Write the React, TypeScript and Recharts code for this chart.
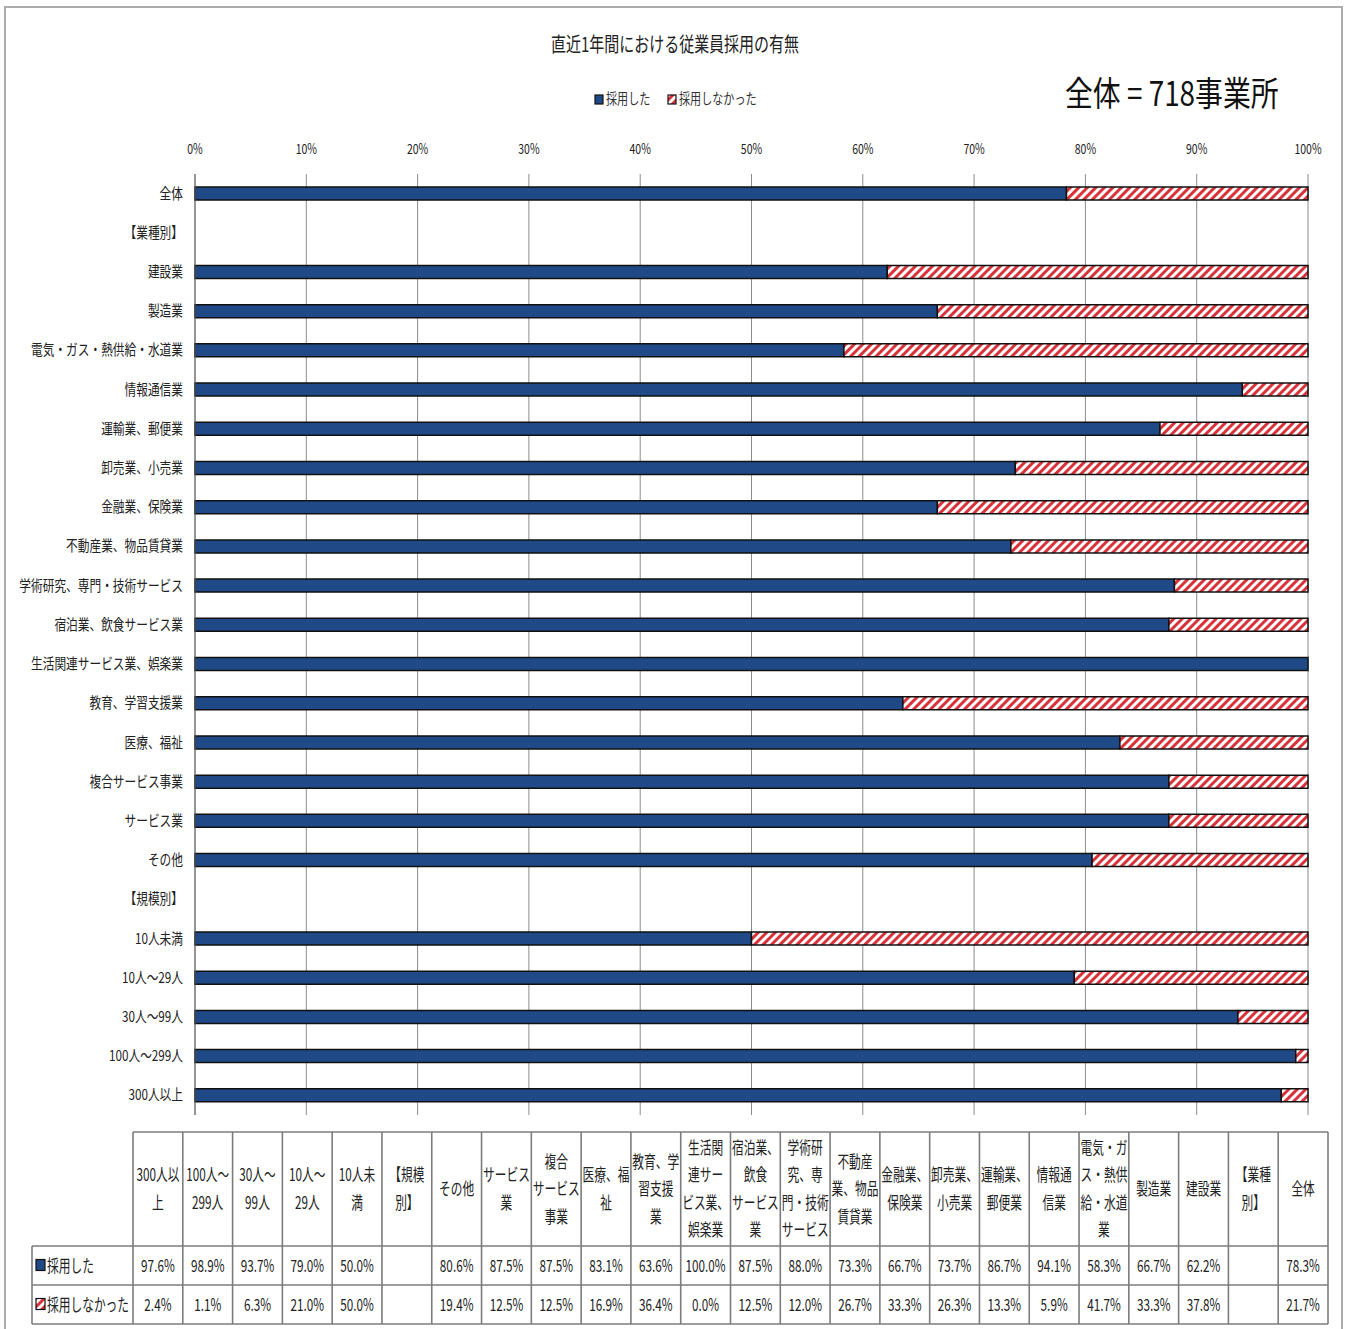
import { BarChart, Bar, XAxis, YAxis, CartesianGrid, Legend } from 'recharts'

// 業種別・規模別の採用状況（%）
const categories = [
  '全体',
  '【業種別】',
  '建設業',
  '製造業',
  '電気・ガス・熱供給・水道業',
  '情報通信業',
  '運輸業、郵便業',
  '卸売業、小売業',
  '金融業、保険業',
  '不動産業、物品賃貸業',
  '学術研究、専門・技術サービス',
  '宿泊業、飲食サービス業',
  '生活関連サービス業、娯楽業',
  '教育、学習支援業',
  '医療、福祉',
  '複合サービス事業',
  'サービス業',
  'その他',
  '【規模別】',
  '10人未満',
  '10人～29人',
  '30人～99人',
  '100人～299人',
  '300人以上',
]

const hired = [
  78.3, null, 62.2, 66.7, 58.3, 94.1, 86.7, 73.7, 66.7, 73.3, 88.0, 87.5,
  100.0, 63.6, 83.1, 87.5, 87.5, 80.6, null, 50.0, 79.0, 93.7, 98.9, 97.6,
]

const notHired = [
  21.7, null, 37.8, 33.3, 41.7, 5.9, 13.3, 26.3, 33.3, 26.7, 12.0, 12.5,
  0.0, 36.4, 16.9, 12.5, 12.5, 19.4, null, 50.0, 21.0, 6.3, 1.1, 2.4,
]

// データテーブル見出し（折り返し位置込み）
const headLines = [
  '全体',
  '【業種\n別】',
  '建設業',
  '製造業',
  '電気・ガ\nス・熱供\n給・水道\n業',
  '情報通\n信業',
  '運輸業、\n郵便業',
  '卸売業、\n小売業',
  '金融業、\n保険業',
  '不動産\n業、物品\n賃貸業',
  '学術研\n究、専\n門・技術\nサービス',
  '宿泊業、\n飲食\nサービス\n業',
  '生活関\n連サー\nビス業、\n娯楽業',
  '教育、学\n習支援\n業',
  '医療、福\n祉',
  '複合\nサービス\n事業',
  'サービス\n業',
  'その他',
  '【規模\n別】',
  '10人未\n満',
  '10人～\n29人',
  '30人～\n99人',
  '100人～\n299人',
  '300人以\n上',
]

const xTicks = [0, 10, 20, 30, 40, 50, 60, 70, 80, 90, 100]

const seriesNames = ['採用した', '採用しなかった']

const data = categories.map((name, i) => ({
  name,
  hired: hired[i],
  notHired: notHired[i],
}))

const FONT = '"Noto Sans CJK JP", "Noto Sans", sans-serif'
const NAVY = '#1f4a87'
const RED = '#d8333a'
const INK = '#222'

function XTick({ x, y, payload }: any) {
  return (
    <g transform={`translate(${x},${y}) scale(0.75,1)`}>
      <text x={0} y={0} dy={-12} textAnchor="middle" fontSize={14} fill={INK} fontFamily={FONT}>
        {payload.value}%
      </text>
    </g>
  )
}

function YTick({ x, y, payload }: any) {
  return (
    <g transform={`translate(${x - 4},${y}) scale(0.78,1)`}>
      <text x={0} y={0} dy={5} textAnchor="end" fontSize={15} fill={INK} fontFamily={FONT}>
        {payload.value}
      </text>
    </g>
  )
}

function LegendContent({ payload }: any) {
  const xs = [595, 668]
  return (
    <svg width={1348} height={24}>
      {(payload || []).map((entry: any, i: number) => (
        <g key={entry.value}>
          <rect x={xs[i]} y={8} width={8} height={9} fill={entry.payload?.fill ?? entry.color} stroke="#111" strokeWidth={1.2} />
          <g transform={`translate(${xs[i] + 11},17) scale(0.74,1)`}>
            <text x={0} y={0} fontSize={15} fill="#333" fontFamily={FONT}>
              {entry.value}
            </text>
          </g>
        </g>
      ))}
    </svg>
  )
}

// 下部のデータテーブル
function DataTable() {
  const left = 32
  const x0 = 133
  const x1 = 1328
  const colW = (x1 - x0) / categories.length
  const yHead = 1132
  const yRow1 = 1246
  const yRow2 = 1285
  const yEnd = 1324
  const order = categories.map((_, i) => categories.length - 1 - i)
  const lineColor = '#7c7c7c'
  const sx = 0.69
  const fmt = (v: number | null) => (v == null ? '' : `${v.toFixed(1)}%`)

  return (
    <g fontFamily={FONT} fill={INK}>
      <line x1={x0} y1={yHead} x2={x1} y2={yHead} stroke={lineColor} strokeWidth={1.6} />
      {[yRow1, yRow2, yEnd].map((yy) => (
        <line key={yy} x1={left} y1={yy} x2={x1} y2={yy} stroke={lineColor} strokeWidth={1.6} />
      ))}
      <line x1={left} y1={yRow1} x2={left} y2={yEnd} stroke={lineColor} strokeWidth={1.6} />
      {order.map((_, c) => (
        <line key={c} x1={x0 + c * colW} y1={yHead} x2={x0 + c * colW} y2={yEnd} stroke={lineColor} strokeWidth={1.6} />
      ))}
      <line x1={x1} y1={yHead} x2={x1} y2={yEnd} stroke={lineColor} strokeWidth={1.6} />

      {order.map((idx, c) => {
        const cx = x0 + c * colW + colW / 2
        const lines = headLines[idx].split('\n')
        const mid = (yHead + yRow1) / 2
        return (
          <g key={categories[idx]}>
            {lines.map((ln, j) => (
              <g key={j} transform={`translate(${cx},${mid + (j - (lines.length - 1) / 2) * 27.5}) scale(${sx},1)`}>
                <text x={0} y={0} dy={6} textAnchor="middle" fontSize={17}>
                  {ln}
                </text>
              </g>
            ))}
            <g transform={`translate(${cx},${(yRow1 + yRow2) / 2}) scale(${sx},1)`}>
              <text x={0} y={0} dy={6} textAnchor="middle" fontSize={17}>
                {fmt(hired[idx])}
              </text>
            </g>
            <g transform={`translate(${cx},${(yRow2 + yEnd) / 2}) scale(${sx},1)`}>
              <text x={0} y={0} dy={6} textAnchor="middle" fontSize={17}>
                {fmt(notHired[idx])}
              </text>
            </g>
          </g>
        )
      })}

      {[NAVY, 'url(#stripes)'].map((fill, r) => {
        const cy = r === 0 ? (yRow1 + yRow2) / 2 : (yRow2 + yEnd) / 2
        return (
          <g key={r}>
            <rect x={36} y={cy - 6} width={9} height={11} fill={fill} stroke="#111" strokeWidth={1.2} />
            <g transform={`translate(47,${cy}) scale(${sx},1)`}>
              <text x={0} y={0} dy={6} fontSize={17}>
                {seriesNames[r]}
              </text>
            </g>
          </g>
        )
      })}
    </g>
  )
}

export default function App() {
  return (
    <div
      style={{
        position: 'absolute',
        left: 0,
        top: 0,
        width: 1348,
        height: 1329,
        overflow: 'hidden',
        background: '#fff',
      }}
    >
      <BarChart
        width={1348}
        height={1329}
        data={data}
        layout="vertical"
        barSize={13}
        margin={{ top: 144, right: 40, bottom: 214, left: 5 }}
      >
        <defs>
          <pattern id="stripes" width={6} height={6} patternUnits="userSpaceOnUse" patternTransform="rotate(45)">
            <rect width={6} height={6} fill="#fff" />
            <rect width={3} height={6} fill={RED} />
          </pattern>
        </defs>
        <CartesianGrid horizontal={false} stroke="#8c8c8c" />
        <XAxis
          type="number"
          domain={[0, 100]}
          ticks={xTicks}
          orientation="top"
          height={30}
          interval={0}
          axisLine={false}
          tickLine={false}
          tick={<XTick />}
        />
        <YAxis
          type="category"
          dataKey="name"
          width={190}
          interval={0}
          tickLine={false}
          axisLine={{ stroke: '#666' }}
          tick={<YTick />}
        />
        <Legend
          layout="horizontal"
          verticalAlign="middle"
          align="center"
          wrapperStyle={{ top: 87, left: 0, width: 1348 }}
          content={<LegendContent />}
        />
        <Bar
          name={seriesNames[0]}
          dataKey="hired"
          stackId="s"
          fill={NAVY}
          stroke="#111"
          strokeWidth={1.5}
          isAnimationActive={false}
        />
        <Bar
          name={seriesNames[1]}
          dataKey="notHired"
          stackId="s"
          fill="url(#stripes)"
          stroke="#111"
          strokeWidth={1.5}
          isAnimationActive={false}
        />
      </BarChart>

      <svg
        width={1348}
        height={1329}
        style={{ position: 'absolute', left: 0, top: 0, pointerEvents: 'none' }}
      >
        <rect x={5} y={7} width={1337} height={1340} fill="none" stroke="#ababab" strokeWidth={2} />
        <g transform="translate(675,52) scale(0.75,1)">
          <text x={0} y={0} textAnchor="middle" fontSize={20} fill={INK} fontFamily={FONT}>
            直近1年間における従業員採用の有無
          </text>
        </g>
        <g transform="translate(1065,106) scale(0.82,1)">
          <text x={0} y={0} fontSize={34} fill="#111" fontFamily={FONT}>
            全体 = 718事業所
          </text>
        </g>
        <DataTable />
      </svg>
    </div>
  )
}
